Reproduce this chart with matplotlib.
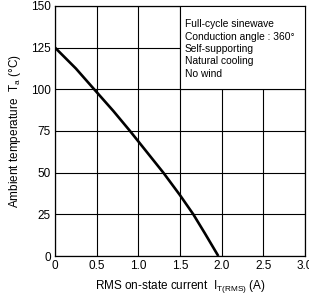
import numpy as np
import matplotlib.pyplot as plt

plt.rcParams['font.family'] = ['Liberation Sans', 'DejaVu Sans']
plt.rcParams['mathtext.fontset'] = 'custom'
plt.rcParams['mathtext.rm'] = 'Liberation Sans'

# derating curve
current = [0.0, 0.25, 0.47, 0.7, 0.9, 1.1, 1.3, 1.5, 1.66, 1.8, 1.96]
temp = [125, 112.5, 100, 87, 75, 62.5, 50, 36.5, 25, 13.5, 0]

xticks = [0, 0.5, 1.0, 1.5, 2.0, 2.5, 3.0]
xlabels = ['0', '0.5', '1.0', '1.5', '2.0', '2.5', '3.0']
yticks = [0, 25, 50, 75, 100, 125, 150]

notes = ['Full-cycle sinewave', 'Conduction angle : 360°',
         'Self-supporting', 'Natural cooling', 'No wind']

fig = plt.figure(figsize=(3.09, 2.96), dpi=100)
ax = fig.add_axes([0.178, 0.135, 0.809, 0.845])

ax.plot(current, temp, color='black', lw=1.9, zorder=3,
        solid_capstyle='butt', solid_joinstyle='round')

ax.set_xlim(0, 3.0)
ax.set_ylim(0, 150)
ax.set_xticks(xticks)
ax.set_xticklabels(xlabels)
ax.set_yticks(yticks)
ax.grid(True, color='black', lw=0.8)
ax.tick_params(length=0, labelsize=8.5, pad=3)
for s in ax.spines.values():
    s.set_linewidth(0.9)

ax.set_xlabel(r'RMS on-state current  $\mathrm{I_{T(RMS)}}$ (A)', fontsize=8.5, labelpad=4)
ax.set_ylabel(r'Ambient temperature  $\mathrm{T_a}$ (°C)', fontsize=8.5, labelpad=6)

# condition box in the upper right
box = plt.Rectangle((1.5, 100), 1.5, 50, transform=ax.transData,
                    facecolor='white', edgecolor='black', lw=0.8, zorder=4)
ax.add_patch(box)
ax.text(1.56, 142, '\n'.join(notes), fontsize=7.4, va='top', ha='left',
        linespacing=1.3, zorder=5)

fig.savefig('out.png', dpi=100)
